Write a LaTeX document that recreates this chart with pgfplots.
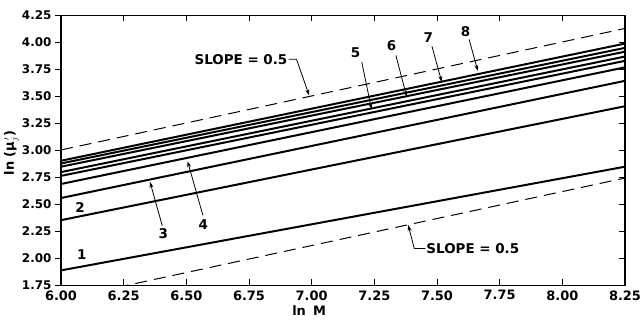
\documentclass[border=0pt]{standalone}
\usepackage{fontspec}
\setmainfont{DejaVu Sans}
\usepackage{pgfplots}
\pgfplotsset{compat=1.18}
\usetikzlibrary{arrows.meta}
\tikzset{arr/.style={line width=0.8pt, -{Stealth[length=6bp,width=4bp]}}}
\begin{document}
\begin{tikzpicture}
\path[use as bounding box] (-61bp,-34.5bp) rectangle (581bp,285.5bp);
\pgfplotsset{
  common/.style={
    at={(0,0)}, anchor=south west,
    scale only axis, width=564bp, height=270bp,
    xmin=6, xmax=8.25, ymin=1.75, ymax=4.25,
    xtick={6,6.25,6.5,6.75,7,7.25,7.5,7.75,8,8.25},
    ytick={1.75,2,2.25,2.5,2.75,3,3.25,3.5,3.75,4,4.25},
    axis line style={line width=1.2pt},
    major tick style={line width=1pt, black},
    major tick length=6bp,
  },
  sol/.style={black, line width=2pt, no markers},
  dsh/.style={black, line width=1pt, no markers, dash pattern=on 12bp off 7bp},
}
\begin{axis}[common,
  xtick pos=both, xtick align=inside,
  ytick pos=left, ytick align=outside,
  /pgf/number format/.cd, fixed, fixed zerofill, precision=2, assume math mode=true,
  /pgfplots/.cd,
  xticklabel style={font=\fontsize{13}{15}\selectfont\bfseries, yshift=-1.5bp},
  yticklabel style={font=\fontsize{12}{14}\selectfont\bfseries},
  xlabel={ln\;\;M},
  ylabel={ln (μ$_{j}^{\,\prime}$)},
  xlabel style={font=\fontsize{13}{15}\selectfont\bfseries, at={(axis description cs:0.44,-0.094)}, anchor=center},
  ylabel style={font=\fontsize{13}{15}\selectfont\bfseries, at={(axis description cs:-0.088,0.49)}, anchor=center},
]
% dashed reference lines, slope 0.5
\addplot[dsh] coordinates {(6,3.005) (8.25,4.13)};
\addplot[dsh] coordinates {(6,1.62) (8.25,2.745)};
% curves 1-8
\addplot[sol] coordinates {(6,1.89) (8.25,2.85)};
\addplot[sol] coordinates {(6,2.355) (8.25,3.41)};
\addplot[sol] coordinates {(6,2.56) (8.25,3.645)};
\addplot[sol] coordinates {(6,2.69) (8.25,3.77)};
\addplot[sol] coordinates {(6,2.765) (8.25,3.83)};
\addplot[sol] coordinates {(6,2.80) (8.25,3.87)};
\addplot[sol] coordinates {(6,2.85) (8.25,3.915)};
\addplot[sol] coordinates {(6,2.88) (8.25,3.95)};
\addplot[sol] coordinates {(6,2.905) (8.25,3.99)};
% annotations
\tikzset{every node/.append style={font=\fontsize{13.5}{15}\selectfont\bfseries}}
\node at (axis cs:6.083,2.032) {1};
\node at (axis cs:6.076,2.468) {2};
\node at (axis cs:6.408,2.23) {3};
\node at (axis cs:6.568,2.31) {4};
\node at (axis cs:7.175,3.906) {5};
\node at (axis cs:7.319,3.967) {6};
\node at (axis cs:7.465,4.045) {7};
\node at (axis cs:7.614,4.105) {8};
\draw[arr] (axis cs:6.404,2.303) -- (axis cs:6.355,2.71);
\draw[arr] (axis cs:6.566,2.40) -- (axis cs:6.505,2.90);
\draw[arr] (axis cs:7.20,3.817) -- (axis cs:7.239,3.38);
\draw[arr] (axis cs:7.336,3.881) -- (axis cs:7.379,3.50);
\draw[arr] (axis cs:7.48,3.964) -- (axis cs:7.519,3.635);
\draw[arr] (axis cs:7.628,4.029) -- (axis cs:7.663,3.737);
\node[inner sep=1bp] (s1) at (axis cs:6.718,3.845) {SLOPE = 0.5};
\draw[arr] (s1.east) -- ([xshift=8bp]s1.east) -- (axis cs:6.99,3.51);
\node[inner sep=1bp] (s2) at (axis cs:7.643,2.093) {SLOPE = 0.5};
\draw[arr] (s2.west) -- ([xshift=-11bp]s2.west) -- (axis cs:7.385,2.31);
\end{axis}
\begin{axis}[common,
  xtick=\empty, ytick pos=right, ytick align=inside,
  yticklabels={}, axis line style={line width=1.2pt},
]
\end{axis}
\end{tikzpicture}
\end{document}
